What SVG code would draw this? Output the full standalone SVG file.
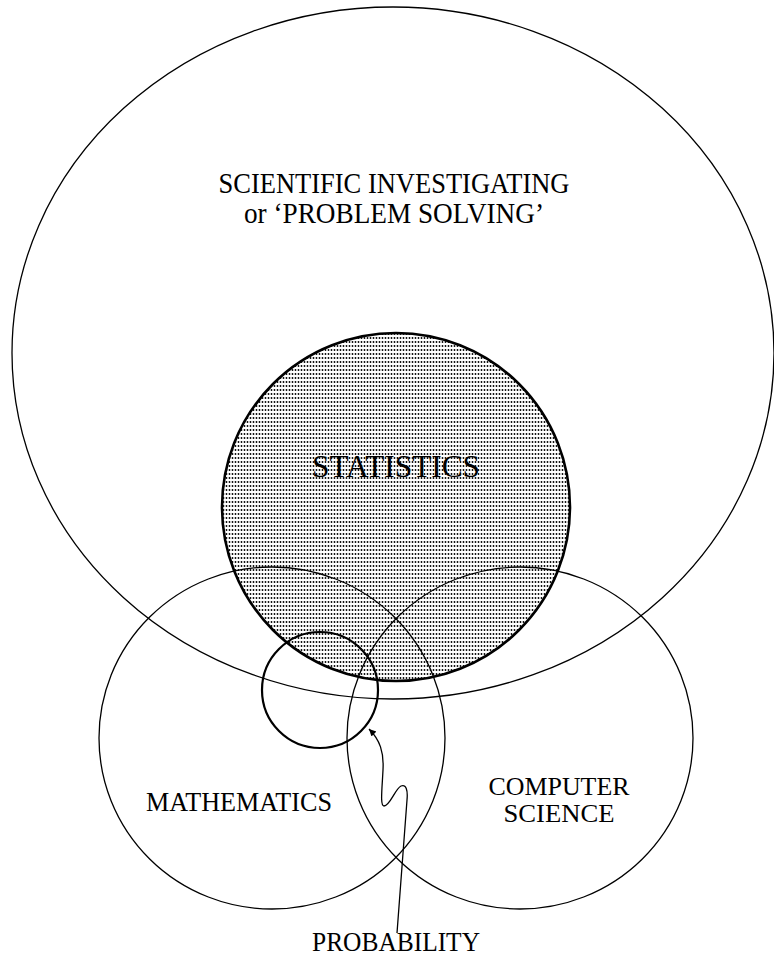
<svg xmlns="http://www.w3.org/2000/svg" width="774" height="957" viewBox="0 0 774 957">
<style>
.thin{fill:none;stroke:#000;stroke-width:1.3}
.thick{fill:none;stroke:#000;stroke-width:2.6}
.mid{fill:none;stroke:#000;stroke-width:2.2}
text{font-family:"Liberation Serif","Times New Roman",serif;fill:#000;text-anchor:middle}
</style>
<defs>
<pattern id="dots" width="3" height="4" patternUnits="userSpaceOnUse">
<rect width="3" height="4" fill="#fff"/>
<circle cx="1.5" cy="2" r="0.9" fill="#000"/>
</pattern>
<marker id="arr" viewBox="0 0 10 10" refX="10" refY="5" markerWidth="10" markerHeight="7" markerUnits="userSpaceOnUse" orient="auto">
<path d="M0,0 L10,5 L0,10 z" fill="#000"/>
</marker>
</defs>
<circle cx="396" cy="507" r="174" fill="url(#dots)"/>
<g id="scientific">
<ellipse class="thin" cx="393" cy="353" rx="381" ry="346"/>
<text x="394" y="193" font-size="29" textLength="351" lengthAdjust="spacingAndGlyphs">SCIENTIFIC INVESTIGATING</text>
<text x="394" y="223" font-size="29" textLength="300" lengthAdjust="spacingAndGlyphs">or ‘PROBLEM SOLVING’</text>
</g>
<g id="mathematics">
<ellipse class="thin" cx="272" cy="738" rx="173" ry="171"/>
<text x="239" y="811" font-size="28" textLength="186" lengthAdjust="spacingAndGlyphs">MATHEMATICS</text>
</g>
<g id="computer-science">
<ellipse class="thin" cx="520" cy="738" rx="173" ry="171"/>
<text x="559" y="795" font-size="26" textLength="141" lengthAdjust="spacingAndGlyphs">COMPUTER</text>
<text x="559" y="822" font-size="26" textLength="111" lengthAdjust="spacingAndGlyphs">SCIENCE</text>
</g>
<g id="statistics">
<circle class="thick" cx="396" cy="507" r="174"/>
<text x="396" y="477" font-size="32" textLength="168" lengthAdjust="spacingAndGlyphs">STATISTICS</text>
</g>
<g id="probability">
<circle class="mid" cx="320" cy="690" r="58"/>
<text x="396" y="951" font-size="27" textLength="168" lengthAdjust="spacingAndGlyphs">PROBABILITY</text>
</g>
<g id="connectors">
<path class="thin" d="M397 933 L407 800 C408 790 406 784 401 786 C395 789 390 806 384 806 C380 806 382 790 383 770 C384 752 380 740 369 729" marker-end="url(#arr)"/>
</g>
</svg>
